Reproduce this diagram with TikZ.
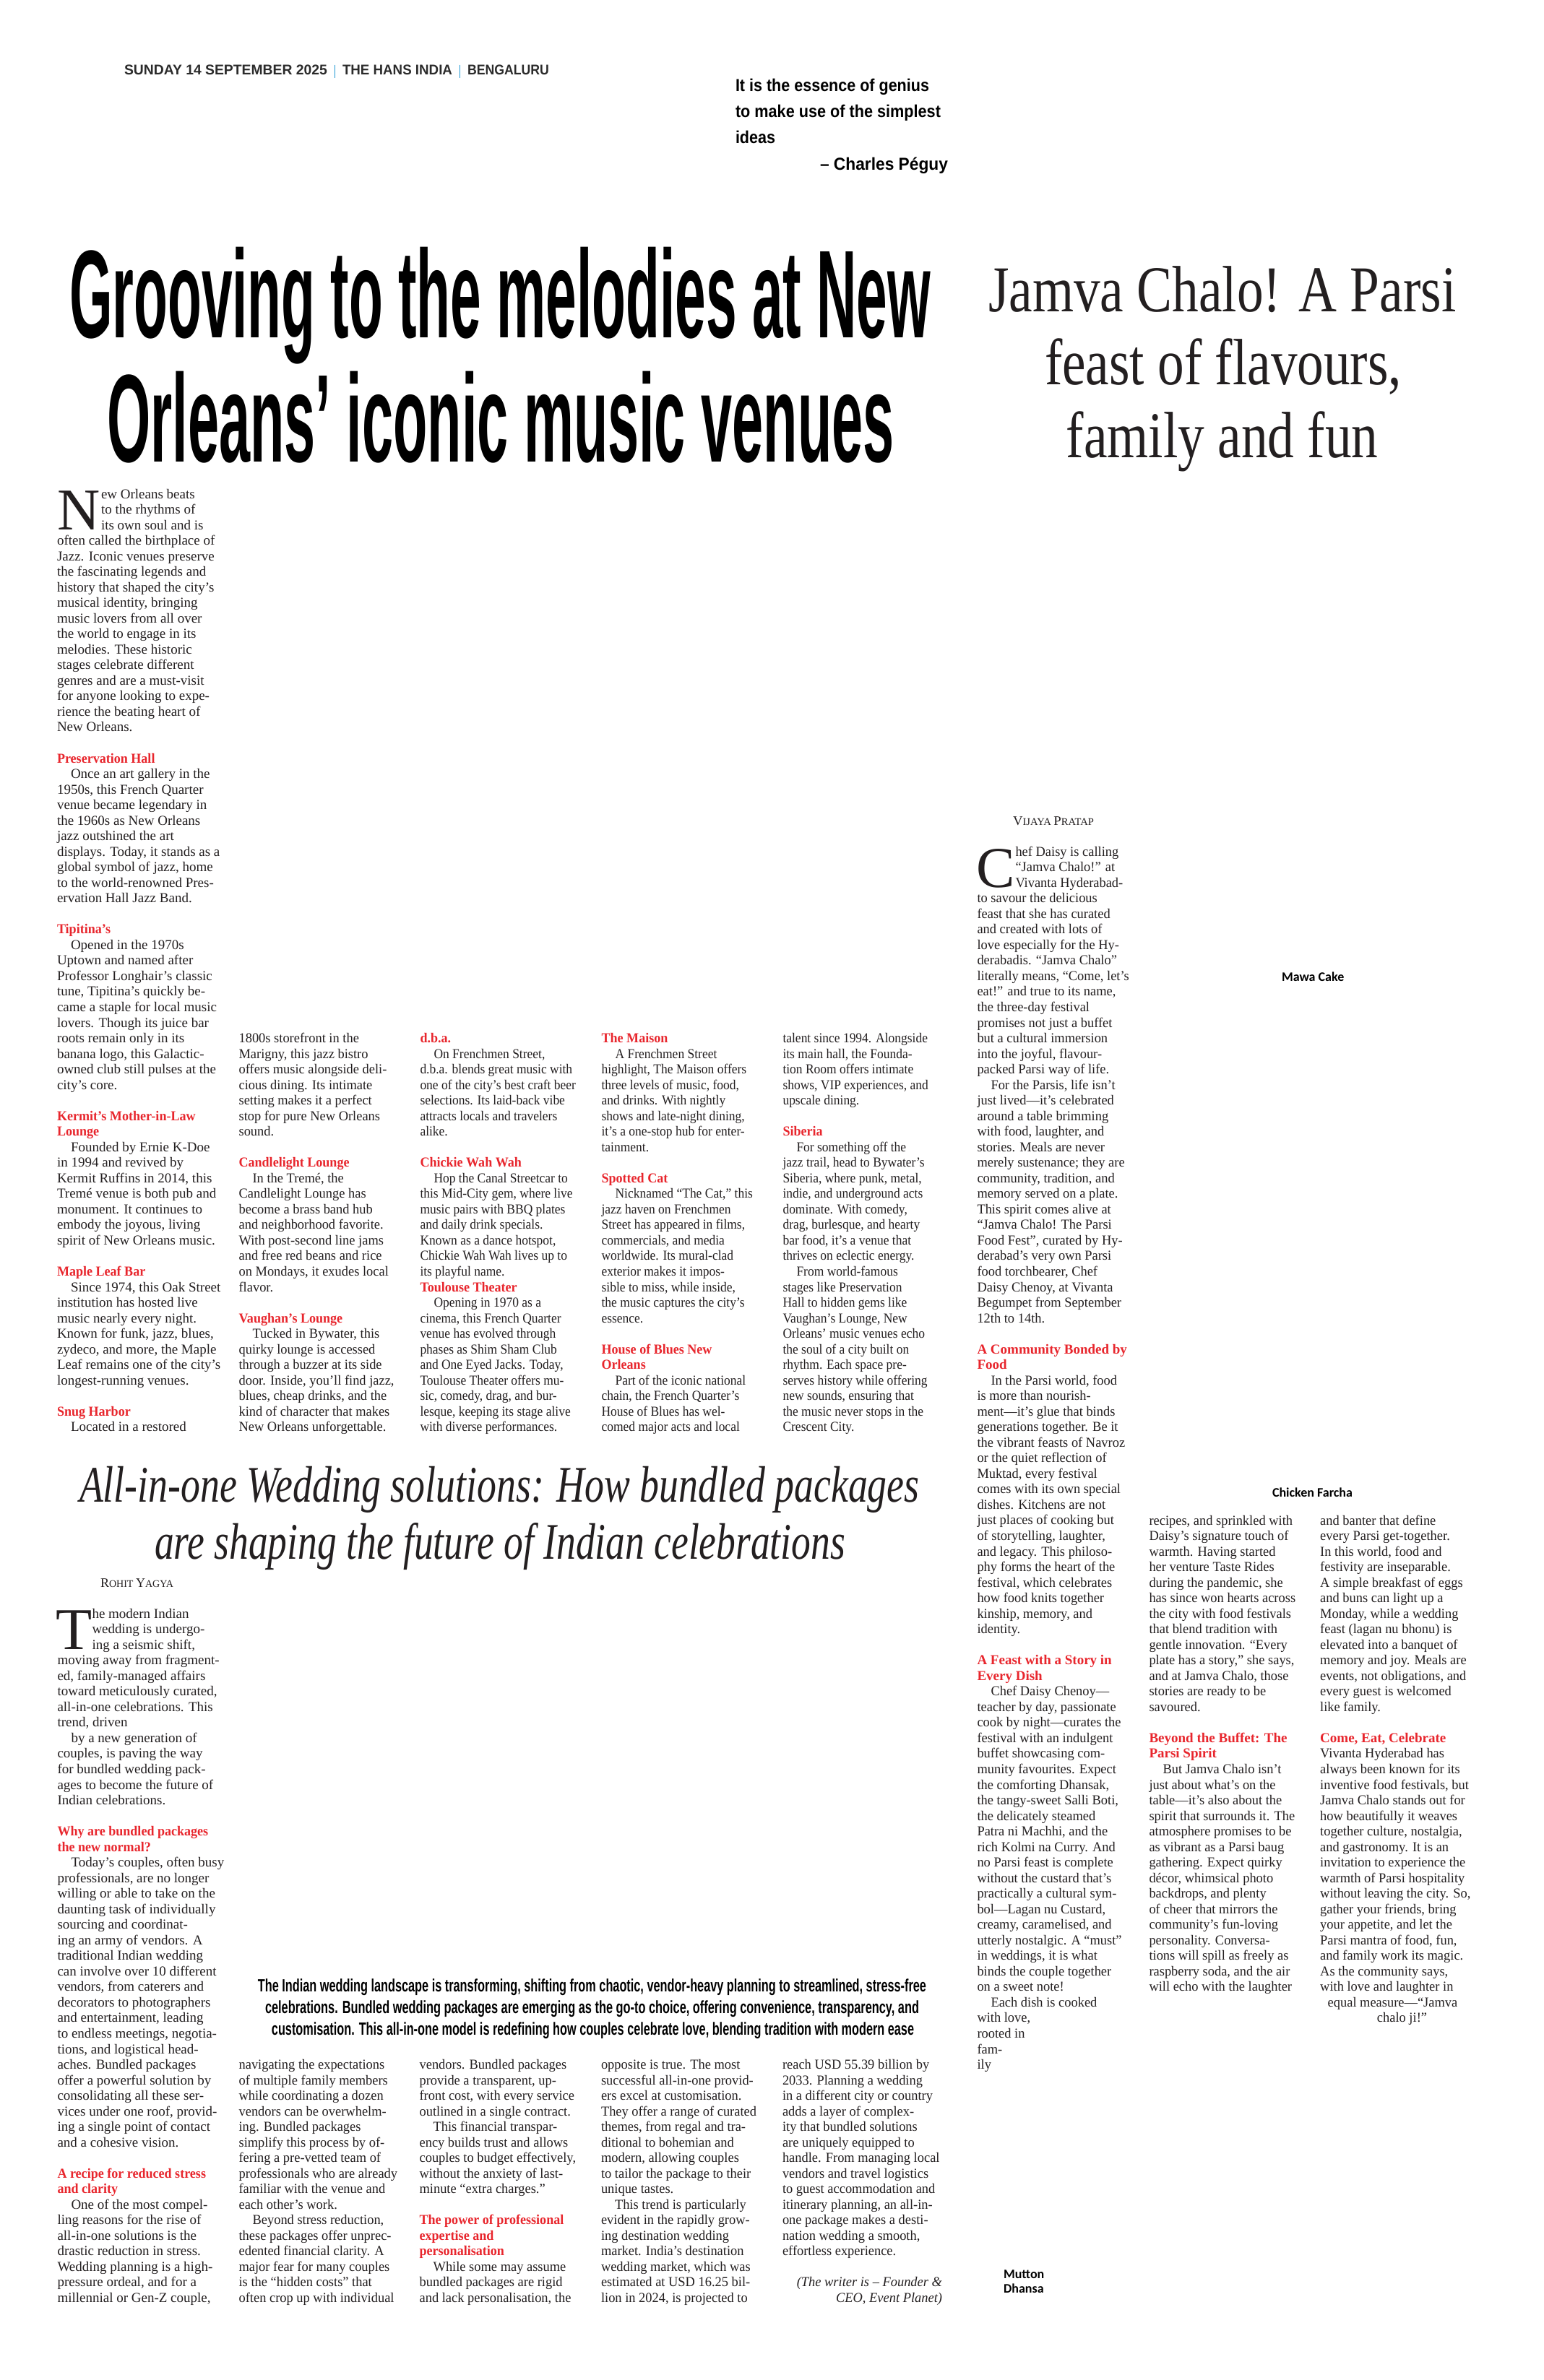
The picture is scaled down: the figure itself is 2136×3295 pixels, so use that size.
\documentclass[tikz,border=0pt]{standalone}
\usepackage{graphicx}
\usepackage{fontspec}
\setmainfont{Liberation Serif}
\newfontfamily\npA{Liberation Serif}
\newfontfamily\npB[FakeStretch=0.97]{Liberation Serif}
\newfontfamily\npC[FakeStretch=0.92]{Liberation Serif}
\newfontfamily\npH[FakeStretch=0.95]{Liberation Serif}
\newfontfamily\npsans{Liberation Sans}
\newfontfamily\npcap{Carlito}
\definecolor{npred}{HTML}{E8262D}
\definecolor{npink}{HTML}{231F20}
\definecolor{npblue}{HTML}{1E96D3}
\definecolor{npgray}{HTML}{2B2B2B}
\newcommand{\fitw}[2]{\resizebox{#1}{\height}{#2}}
\newcommand{\ind}{\hspace*{19pt}}
\newcommand{\hd}[1]{{\npH\bfseries\color{npred}#1}}
\newcommand{\hdP}[1]{{\npA\bfseries\color{npred}#1}}
\newcommand{\npblock}[2]{\vtop{\hsize=400pt\parindent=0pt\parskip=0pt\fontsize{19pt}{21.53pt}#1\baselineskip=21.53pt\lineskiplimit=-100pt\lineskip=0pt\leavevmode\color{npink}#2\par}}
\newcommand{\hdrtext}[2]{\fitw{#1}{\color{npgray}\npsans\bfseries\fontsize{19.5}{19.5}\selectfont #2}}
\tikzset{
  txt/.style={anchor=base west, inner sep=0pt, outer sep=0pt},
  txtc/.style={anchor=base, inner sep=0pt, outer sep=0pt},
  txte/.style={anchor=base east, inner sep=0pt, outer sep=0pt},
  dropcap/.style={anchor=base west, inner sep=0pt, outer sep=0pt, text=npink},
  caption/.style={anchor=base west, inner sep=0pt, outer sep=0pt, font=\npcap\bfseries\fontsize{18}{18}\selectfont, text=black},
  hbar/.style={draw=npblue, line width=1.6pt}
}
\begin{document}
\begin{tikzpicture}[x=1pt,y=-1pt]
\useasboundingbox (0,0) rectangle (2136,3295);
\fill[white] (0,0) rectangle (2136,3295);

% ---------- header and quote ----------
\node[txt] (hdrA) at (172,103.5) {\hdrtext{281pt}{SUNDAY 14 SEPTEMBER 2025}};
\node[txt] (hdrB) at (474,103.5) {\hdrtext{152pt}{THE HANS INDIA}};
\node[txt] (hdrC) at (647,103.5) {\hdrtext{113pt}{BENGALURU}};
\draw[hbar] (463.5,89.7) -- (463.5,107.6);
\draw[hbar] (636.5,89.7) -- (636.5,107.6);
\node[txt] (q1) at (1018,126) {\fitw{268pt}{\npsans\bfseries\fontsize{24}{24}\selectfont It is the essence of genius}};
\node[txt] (q2) at (1018,162) {\fitw{284pt}{\npsans\bfseries\fontsize{24}{24}\selectfont to make use of the simplest}};
\node[txt] (q3) at (1018,198) {\scalebox{0.897}[1]{\npsans\bfseries\fontsize{24}{24}\selectfont ideas}};
\node[txte] (q4) at (1312,235) {\fitw{177pt}{\npsans\bfseries\fontsize{24}{24}\selectfont – Charles Péguy}};

% ---------- headlines ----------
\node[txt] (hl1) at (96,467) {\fitw{1192pt}{\npsans\bfseries\fontsize{173}{173}\selectfont Grooving to the melodies at New}};
\node[txt] (hl2) at (148.5,639) {\fitw{1089pt}{\npsans\bfseries\fontsize{173}{173}\selectfont Orleans’ iconic music venues}};

\node[txt] (jc1) at (1368,431.7) {\fitw{647.5pt}{\color{npink}\npA\fontsize{90.6}{90.6}\selectfont Jamva Chalo! A Parsi}};
\node[txt] (jc2) at (1446,532.5) {\fitw{494pt}{\color{npink}\npA\fontsize{90.6}{90.6}\selectfont feast of flavours,}};
\node[txt] (jc3) at (1475.6,633.3) {\fitw{432pt}{\color{npink}\npA\fontsize{90.6}{90.6}\selectfont family and fun}};

\node[txt] (wh1) at (110,2079) {\fitw{1162.5pt}{\color{npink}\npA\itshape\fontsize{71}{71}\selectfont All-in-one Wedding solutions: How bundled packages}};
\node[txt] (wh2) at (214,2158.4) {\fitw{956pt}{\color{npink}\npA\itshape\fontsize{71}{71}\selectfont are shaping the future of Indian celebrations}};

% ---------- bylines and captions ----------
\node[txt] (by1) at (1402,1142.1) {\fitw{112pt}{\color{npink}\npA\fontsize{18}{18}\selectfont V\fontsize{14}{14}\selectfont IJAYA \fontsize{18}{18}\selectfont P\fontsize{14}{14}\selectfont RATAP}};
\node[txt] (by2) at (139,2197.1) {\fitw{101pt}{\color{npink}\npA\fontsize{18}{18}\selectfont R\fontsize{14}{14}\selectfont OHIT \fontsize{18}{18}\selectfont Y\fontsize{14}{14}\selectfont AGYA}};
\node[caption] (cap1) at (1774,1358.4) {Mawa Cake};
\node[caption] (cap2) at (1761,2072) {Chicken Farcha};
\node[caption] (cap3) at (1389,3154) {Mutton};
\node[caption] (cap4) at (1389,3174) {Dhansa};

% ---------- drop caps ----------
\node[dropcap] (dcN) at (79,733.06) {\npA\fontsize{82}{82}\selectfont N};
\node[dropcap] (dcC) at (1351,1228.25) {\npA\fontsize{80}{80}\selectfont C};
\node[dropcap] (dcT) at (77,2283.22) {\npA\fontsize{82}{82}\selectfont T};

% ---------- music article ----------
\node[txt] (m1a) at (140,690) {\npblock{\npA}{%
ew Orleans beats\\
to the rhythms of\\
its own soul and is}};
\node[txt] (m1) at (79,754.59) {\npblock{\npA}{%
often called the birthplace of\\
Jazz. Iconic venues preserve\\
the fascinating legends and\\
history that shaped the city’s\\
musical identity, bringing\\
music lovers from all over\\
the world to engage in its\\
melodies. These historic\\
stages celebrate different\\
genres and are a must-visit\\
for anyone looking to expe-\\
rience the beating heart of\\
New Orleans.\\
\mbox{}\\
\hd{Preservation Hall}\\
\ind Once an art gallery in the\\
1950s, this French Quarter\\
venue became legendary in\\
the 1960s as New Orleans\\
jazz outshined the art\\
displays. Today, it stands as a\\
global symbol of jazz, home\\
to the world-renowned Pres-\\
ervation Hall Jazz Band.\\
\mbox{}\\
\hd{Tipitina’s}\\
\ind Opened in the 1970s\\
Uptown and named after\\
Professor Longhair’s classic\\
tune, Tipitina’s quickly be-\\
came a staple for local music\\
lovers. Though its juice bar\\
roots remain only in its\\
banana logo, this Galactic-\\
owned club still pulses at the\\
city’s core.\\
\mbox{}\\
\hd{Kermit’s Mother-in-Law}\\
\hd{Lounge}\\
\ind Founded by Ernie K-Doe\\
in 1994 and revived by\\
Kermit Ruffins in 2014, this\\
Tremé venue is both pub and\\
monument. It continues to\\
embody the joyous, living\\
spirit of New Orleans music.\\
\mbox{}\\
\hd{Maple Leaf Bar}\\
\ind Since 1974, this Oak Street\\
institution has hosted live\\
music nearly every night.\\
Known for funk, jazz, blues,\\
zydeco, and more, the Maple\\
Leaf remains one of the city’s\\
longest-running venues.\\
\mbox{}\\
\hd{Snug Harbor}\\
\ind Located in a restored}};

\node[txt] (m2) at (330.6,1443.55) {\npblock{\npB}{%
1800s storefront in the\\
Marigny, this jazz bistro\\
offers music alongside deli-\\
cious dining. Its intimate\\
setting makes it a perfect\\
stop for pure New Orleans\\
sound.\\
\mbox{}\\
\hd{Candlelight Lounge}\\
\ind In the Tremé, the\\
Candlelight Lounge has\\
become a brass band hub\\
and neighborhood favorite.\\
With post-second line jams\\
and free red beans and rice\\
on Mondays, it exudes local\\
flavor.\\
\mbox{}\\
\hd{Vaughan’s Lounge}\\
\ind Tucked in Bywater, this\\
quirky lounge is accessed\\
through a buzzer at its side\\
door. Inside, you’ll find jazz,\\
blues, cheap drinks, and the\\
kind of character that makes\\
New Orleans unforgettable.}};

\node[txt] (m3) at (581.5,1443.55) {\npblock{\npC}{%
\hd{d.b.a.}\\
\ind On Frenchmen Street,\\
d.b.a. blends great music with\\
one of the city’s best craft beer\\
selections. Its laid-back vibe\\
attracts locals and travelers\\
alike.\\
\mbox{}\\
\hd{Chickie Wah Wah}\\
\ind Hop the Canal Streetcar to\\
this Mid-City gem, where live\\
music pairs with BBQ plates\\
and daily drink specials.\\
Known as a dance hotspot,\\
Chickie Wah Wah lives up to\\
its playful name.\\
\hd{Toulouse Theater}\\
\ind Opening in 1970 as a\\
cinema, this French Quarter\\
venue has evolved through\\
phases as Shim Sham Club\\
and One Eyed Jacks. Today,\\
Toulouse Theater offers mu-\\
sic, comedy, drag, and bur-\\
lesque, keeping its stage alive\\
with diverse performances.}};

\node[txt] (m4) at (832.6,1443.55) {\npblock{\npC}{%
\hd{The Maison}\\
\ind A Frenchmen Street\\
highlight, The Maison offers\\
three levels of music, food,\\
and drinks. With nightly\\
shows and late-night dining,\\
it’s a one-stop hub for enter-\\
tainment.\\
\mbox{}\\
\hd{Spotted Cat}\\
\ind Nicknamed “The Cat,” this\\
jazz haven on Frenchmen\\
Street has appeared in films,\\
commercials, and media\\
worldwide. Its mural-clad\\
exterior makes it impos-\\
sible to miss, while inside,\\
the music captures the city’s\\
essence.\\
\mbox{}\\
\hd{House of Blues New}\\
\hd{Orleans}\\
\ind Part of the iconic national\\
chain, the French Quarter’s\\
House of Blues has wel-\\
comed major acts and local}};

\node[txt] (m5) at (1083.5,1443.55) {\npblock{\npC}{%
talent since 1994. Alongside\\
its main hall, the Founda-\\
tion Room offers intimate\\
shows, VIP experiences, and\\
upscale dining.\\
\mbox{}\\
\hd{Siberia}\\
\ind For something off the\\
jazz trail, head to Bywater’s\\
Siberia, where punk, metal,\\
indie, and underground acts\\
dominate. With comedy,\\
drag, burlesque, and hearty\\
bar food, it’s a venue that\\
thrives on eclectic energy.\\
\ind From world-famous\\
stages like Preservation\\
Hall to hidden gems like\\
Vaughan’s Lounge, New\\
Orleans’ music venues echo\\
the soul of a city built on\\
rhythm. Each space pre-\\
serves history while offering\\
new sounds, ensuring that\\
the music never stops in the\\
Crescent City.}};

% ---------- Parsi article ----------
\node[txt] (p1a) at (1405.5,1185.19) {\npblock{\npB}{%
hef Daisy is calling\\
“Jamva Chalo!” at\\
Vivanta Hyderabad-}};
\node[txt] (p1) at (1352.5,1249.78) {\npblock{\npB}{%
to savour the delicious\\
feast that she has curated\\
and created with lots of\\
love especially for the Hy-\\
derabadis. “Jamva Chalo”\\
literally means, “Come, let’s\\
eat!” and true to its name,\\
the three-day festival\\
promises not just a buffet\\
but a cultural immersion\\
into the joyful, flavour-\\
packed Parsi way of life.\\
\ind For the Parsis, life isn’t\\
just lived—it’s celebrated\\
around a table brimming\\
with food, laughter, and\\
stories. Meals are never\\
merely sustenance; they are\\
community, tradition, and\\
memory served on a plate.\\
This spirit comes alive at\\
“Jamva Chalo! The Parsi\\
Food Fest”, curated by Hy-\\
derabad’s very own Parsi\\
food torchbearer, Chef\\
Daisy Chenoy, at Vivanta\\
Begumpet from September\\
12th to 14th.\\
\mbox{}\\
\hdP{A Community Bonded by}\\
\hdP{Food}\\
\ind In the Parsi world, food\\
is more than nourish-\\
ment—it’s glue that binds\\
generations together. Be it\\
the vibrant feasts of Navroz\\
or the quiet reflection of\\
Muktad, every festival\\
comes with its own special\\
dishes. Kitchens are not\\
just places of cooking but\\
of storytelling, laughter,\\
and legacy. This philoso-\\
phy forms the heart of the\\
festival, which celebrates\\
how food knits together\\
kinship, memory, and\\
identity.\\
\mbox{}\\
\hdP{A Feast with a Story in}\\
\hdP{Every Dish}\\
\ind Chef Daisy Chenoy—\\
teacher by day, passionate\\
cook by night—curates the\\
festival with an indulgent\\
buffet showcasing com-\\
munity favourites. Expect\\
the comforting Dhansak,\\
the tangy-sweet Salli Boti,\\
the delicately steamed\\
Patra ni Machhi, and the\\
rich Kolmi na Curry. And\\
no Parsi feast is complete\\
without the custard that’s\\
practically a cultural sym-\\
bol—Lagan nu Custard,\\
creamy, caramelised, and\\
utterly nostalgic. A “must”\\
in weddings, it is what\\
binds the couple together\\
on a sweet note!\\
\ind Each dish is cooked\\
with love,\\
rooted in\\
fam-\\
ily}};

\node[txt] (p2) at (1590.5,2110.98) {\npblock{\npB}{%
recipes, and sprinkled with\\
Daisy’s signature touch of\\
warmth. Having started\\
her venture Taste Rides\\
during the pandemic, she\\
has since won hearts across\\
the city with food festivals\\
that blend tradition with\\
gentle innovation. “Every\\
plate has a story,” she says,\\
and at Jamva Chalo, those\\
stories are ready to be\\
savoured.\\
\mbox{}\\
\hdP{Beyond the Buffet: The}\\
\hdP{Parsi Spirit}\\
\ind But Jamva Chalo isn’t\\
just about what’s on the\\
table—it’s also about the\\
spirit that surrounds it. The\\
atmosphere promises to be\\
as vibrant as a Parsi baug\\
gathering. Expect quirky\\
décor, whimsical photo\\
backdrops, and plenty\\
of cheer that mirrors the\\
community’s fun-loving\\
personality. Conversa-\\
tions will spill as freely as\\
raspberry soda, and the air\\
will echo with the laughter}};

\node[txt] (p3) at (1827.2,2110.98) {\npblock{\npB}{%
and banter that define\\
every Parsi get-together.\\
In this world, food and\\
festivity are inseparable.\\
A simple breakfast of eggs\\
and buns can light up a\\
Monday, while a wedding\\
feast (lagan nu bhonu) is\\
elevated into a banquet of\\
memory and joy. Meals are\\
events, not obligations, and\\
every guest is welcomed\\
like family.\\
\mbox{}\\
\hdP{Come, Eat, Celebrate}\\
Vivanta Hyderabad has\\
always been known for its\\
inventive food festivals, but\\
Jamva Chalo stands out for\\
how beautifully it weaves\\
together culture, nostalgia,\\
and gastronomy. It is an\\
invitation to experience the\\
warmth of Parsi hospitality\\
without leaving the city. So,\\
gather your friends, bring\\
your appetite, and let the\\
Parsi mantra of food, fun,\\
and family work its magic.\\
As the community says,\\
with love and laughter in}};
\node[txtc] (p3a) at (1927.5,2778.41) {\color{npink}\npB\fontsize{19pt}{21.53pt}\selectfont equal measure—“Jamva};
\node[txtc] (p3b) at (1940.5,2799.94) {\color{npink}\npB\fontsize{19pt}{21.53pt}\selectfont chalo ji!”};

% ---------- wedding article ----------
\node[txt] (w1a) at (127.5,2240.16) {\npblock{\npA}{%
he modern Indian\\
wedding is undergo-\\
ing a seismic shift,}};
\node[txt] (w1) at (79.5,2304.75) {\npblock{\npA}{%
moving away from fragment-\\
ed, family-managed affairs\\
toward meticulously curated,\\
all-in-one celebrations. This\\
trend, driven\\
\ind by a new generation of\\
couples, is paving the way\\
for bundled wedding pack-\\
ages to become the future of\\
Indian celebrations.\\
\mbox{}\\
\hd{Why are bundled packages}\\
\hd{the new normal?}\\
\ind Today’s couples, often busy\\
professionals, are no longer\\
willing or able to take on the\\
daunting task of individually\\
sourcing and coordinat-\\
ing an army of vendors. A\\
traditional Indian wedding\\
can involve over 10 different\\
vendors, from caterers and\\
decorators to photographers\\
and entertainment, leading\\
to endless meetings, negotia-\\
tions, and logistical head-\\
aches. Bundled packages\\
offer a powerful solution by\\
consolidating all these ser-\\
vices under one roof, provid-\\
ing a single point of contact\\
and a cohesive vision.\\
\mbox{}\\
\hd{A recipe for reduced stress}\\
\hd{and clarity}\\
\ind One of the most compel-\\
ling reasons for the rise of\\
all-in-one solutions is the\\
drastic reduction in stress.\\
Wedding planning is a high-\\
pressure ordeal, and for a\\
millennial or Gen-Z couple,}};

\node[txtc] (pq1) at (819.5,2757) {\fitw{925pt}{\color{black}\npsans\bfseries\fontsize{24.5}{24.5}\selectfont The Indian wedding landscape is transforming, shifting from chaotic, vendor-heavy planning to streamlined, stress-free}};
\node[txtc] (pq2) at (819.5,2787) {\fitw{905pt}{\color{black}\npsans\bfseries\fontsize{24.5}{24.5}\selectfont celebrations. Bundled wedding packages are emerging as the go-to choice, offering convenience, transparency, and}};
\node[txtc] (pq3) at (820.5,2817) {\fitw{889pt}{\color{black}\npsans\bfseries\fontsize{24.5}{24.5}\selectfont customisation. This all-in-one model is redefining how couples celebrate love, blending tradition with modern ease}};

\node[txt] (w2) at (330.6,2864.53) {\npblock{\npB}{%
navigating the expectations\\
of multiple family members\\
while coordinating a dozen\\
vendors can be overwhelm-\\
ing. Bundled packages\\
simplify this process by of-\\
fering a pre-vetted team of\\
professionals who are already\\
familiar with the venue and\\
each other’s work.\\
\ind Beyond stress reduction,\\
these packages offer unprec-\\
edented financial clarity. A\\
major fear for many couples\\
is the “hidden costs” that\\
often crop up with individual}};

\node[txt] (w3) at (580.6,2864.53) {\npblock{\npB}{%
vendors. Bundled packages\\
provide a transparent, up-\\
front cost, with every service\\
outlined in a single contract.\\
\ind This financial transpar-\\
ency builds trust and allows\\
couples to budget effectively,\\
without the anxiety of last-\\
minute “extra charges.”\\
\mbox{}\\
\hd{The power of professional}\\
\hd{expertise and}\\
\hd{personalisation}\\
\ind While some may assume\\
bundled packages are rigid\\
and lack personalisation, the}};

\node[txt] (w4) at (832,2864.53) {\npblock{\npB}{%
opposite is true. The most\\
successful all-in-one provid-\\
ers excel at customisation.\\
They offer a range of curated\\
themes, from regal and tra-\\
ditional to bohemian and\\
modern, allowing couples\\
to tailor the package to their\\
unique tastes.\\
\ind This trend is particularly\\
evident in the rapidly grow-\\
ing destination wedding\\
market. India’s destination\\
wedding market, which was\\
estimated at USD 16.25 bil-\\
lion in 2024, is projected to}};

\node[txt] (w5) at (1083,2864.53) {\npblock{\npB}{%
reach USD 55.39 billion by\\
2033. Planning a wedding\\
in a different city or country\\
adds a layer of complex-\\
ity that bundled solutions\\
are uniquely equipped to\\
handle. From managing local\\
vendors and travel logistics\\
to guest accommodation and\\
itinerary planning, an all-in-\\
one package makes a desti-\\
nation wedding a smooth,\\
effortless experience.}};
\node[txte] (wr1) at (1304,3165.95) {\color{npink}\npB\itshape\fontsize{19pt}{21.53pt}\selectfont (The writer is – Founder \&};
\node[txte] (wr2) at (1304,3187.48) {\color{npink}\npB\itshape\fontsize{19pt}{21.53pt}\selectfont CEO, Event Planet)};
\end{tikzpicture}
\end{document}
